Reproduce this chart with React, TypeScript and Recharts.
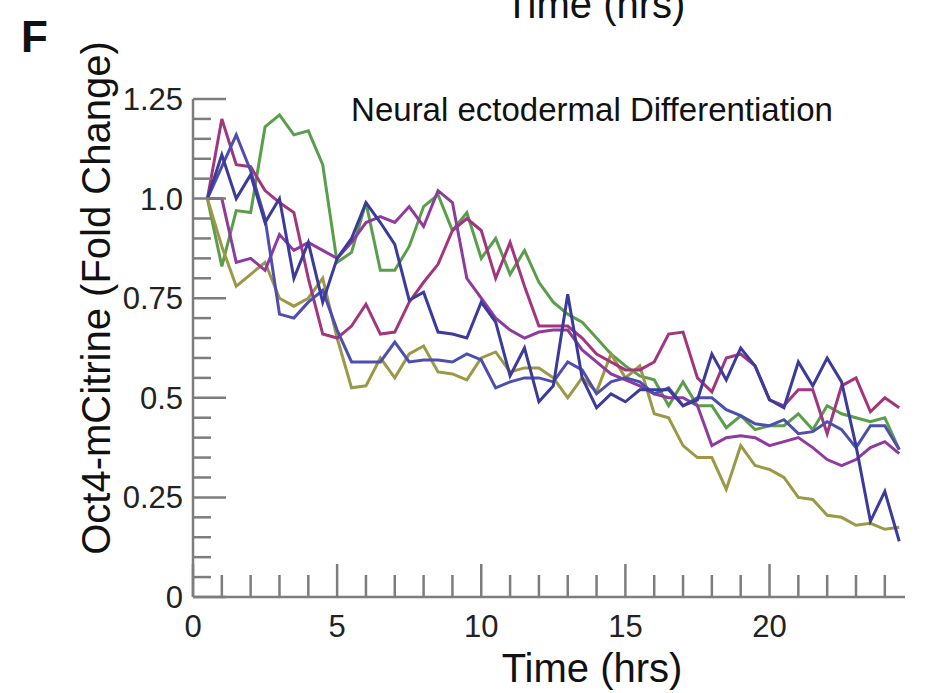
import { LineChart, Line, XAxis, YAxis } from 'recharts';

const hours = [0.5, 1, 1.5, 2, 2.5, 3, 3.5, 4, 4.5, 5, 5.5, 6, 6.5, 7, 7.5, 8, 8.5, 9, 9.5, 10, 10.5, 11, 11.5, 12, 12.5, 13, 13.5, 14, 14.5, 15, 15.5, 16, 16.5, 17, 17.5, 18, 18.5, 19, 19.5, 20, 20.5, 21, 21.5, 22, 22.5, 23, 23.5, 24, 24.5];

const green = [1.0, 0.83, 0.97, 0.965, 1.18, 1.21, 1.16, 1.17, 1.085, 0.84, 0.865, 0.99, 0.82, 0.82, 0.88, 0.98, 1.01, 0.92, 0.965, 0.85, 0.9, 0.81, 0.87, 0.79, 0.74, 0.71, 0.69, 0.65, 0.61, 0.58, 0.555, 0.545, 0.48, 0.54, 0.48, 0.48, 0.425, 0.455, 0.42, 0.43, 0.43, 0.46, 0.42, 0.48, 0.46, 0.45, 0.44, 0.45, 0.37];
const olive = [1.0, 0.88, 0.78, 0.81, 0.84, 0.75, 0.73, 0.75, 0.8, 0.65, 0.525, 0.53, 0.6, 0.55, 0.61, 0.63, 0.565, 0.56, 0.545, 0.6, 0.615, 0.565, 0.575, 0.575, 0.55, 0.5, 0.55, 0.515, 0.61, 0.55, 0.58, 0.46, 0.45, 0.38, 0.35, 0.35, 0.27, 0.38, 0.33, 0.32, 0.3, 0.25, 0.245, 0.205, 0.2, 0.18, 0.185, 0.17, 0.175];
const magenta = [1.0, 1.2, 1.085, 1.08, 1.02, 0.99, 0.965, 0.8, 0.66, 0.65, 0.68, 0.735, 0.66, 0.665, 0.74, 0.79, 0.835, 0.92, 0.95, 0.92, 0.8, 0.89, 0.78, 0.68, 0.68, 0.68, 0.65, 0.61, 0.59, 0.57, 0.57, 0.59, 0.66, 0.665, 0.55, 0.515, 0.6, 0.61, 0.58, 0.495, 0.48, 0.52, 0.52, 0.41, 0.53, 0.55, 0.465, 0.5, 0.475];
const violet = [1.0, 1.0, 0.84, 0.85, 0.82, 0.91, 0.87, 0.89, 0.87, 0.85, 0.89, 0.94, 0.955, 0.94, 0.98, 0.93, 1.02, 0.99, 0.8, 0.75, 0.7, 0.67, 0.65, 0.665, 0.67, 0.67, 0.62, 0.59, 0.56, 0.545, 0.53, 0.51, 0.5, 0.5, 0.48, 0.38, 0.4, 0.405, 0.4, 0.38, 0.39, 0.4, 0.375, 0.345, 0.33, 0.345, 0.375, 0.39, 0.36];
const blueA = [1.0, 1.11, 1.0, 1.06, 0.94, 1.0, 0.8, 0.89, 0.74, 0.85, 0.9, 0.99, 0.94, 0.885, 0.745, 0.765, 0.665, 0.66, 0.65, 0.74, 0.69, 0.555, 0.625, 0.49, 0.53, 0.76, 0.55, 0.475, 0.51, 0.49, 0.52, 0.52, 0.52, 0.48, 0.495, 0.61, 0.545, 0.625, 0.58, 0.495, 0.475, 0.59, 0.53, 0.6, 0.54, 0.38, 0.19, 0.265, 0.14];
const blueB = [1.0, 1.08, 1.16, 1.07, 0.95, 0.71, 0.7, 0.74, 0.77, 0.67, 0.59, 0.59, 0.59, 0.64, 0.59, 0.595, 0.595, 0.59, 0.61, 0.595, 0.525, 0.54, 0.55, 0.55, 0.54, 0.59, 0.57, 0.51, 0.54, 0.55, 0.54, 0.51, 0.525, 0.48, 0.5, 0.5, 0.47, 0.455, 0.435, 0.43, 0.445, 0.41, 0.415, 0.44, 0.42, 0.375, 0.43, 0.43, 0.37];

const xTicks = [0, 1, 2, 3, 4, 5, 6, 7, 8, 9, 10, 11, 12, 13, 14, 15, 16, 17, 18, 19, 20, 21, 22, 23, 24];
const xMajor = [0, 5, 10, 15, 20];
const yTicks = [0, 0.05, 0.1, 0.15, 0.2, 0.25, 0.3, 0.35, 0.4, 0.45, 0.5, 0.55, 0.6, 0.65, 0.7, 0.75, 0.8, 0.85, 0.9, 0.95, 1, 1.05, 1.1, 1.15, 1.2, 1.25];
const yMajor = [0, 0.25, 0.5, 0.75, 1, 1.25];
const yMajorLabels = ['0', '0.25', '0.5', '0.75', '1.0', '1.25'];

const data = hours.map((t, i) => ({
  t,
  green: green[i],
  olive: olive[i],
  magenta: magenta[i],
  violet: violet[i],
  blueA: blueA[i],
  blueB: blueB[i],
}));

const FONT = '"Liberation Sans", Arial, Helvetica, sans-serif';
const AXIS = '#7d7d7d';

const XTick = (props: any) => {
  const { x, y, payload } = props;
  const major = xMajor.includes(payload.value);
  return (
    <g>
      <line x1={x} x2={x} y1={y} y2={y - (major ? 33 : 22)} stroke={AXIS} strokeWidth={2.5} />
      {major && (
        <text x={x} y={y + 40} textAnchor="middle" fontSize={31} fontFamily={FONT} fill="#222">
          {payload.value}
        </text>
      )}
    </g>
  );
};

const YTick = (props: any) => {
  const { x, y, payload } = props;
  const idx = yMajor.findIndex((v) => Math.abs(v - payload.value) < 1e-6);
  const major = idx >= 0;
  return (
    <g>
      <line x1={x} x2={x + (major ? 33 : 18)} y1={y} y2={y} stroke={AXIS} strokeWidth={2.5} />
      {major && (
        <text x={x - 10} y={y + 11} textAnchor="end" fontSize={31} fontFamily={FONT} fill="#222">
          {yMajorLabels[idx]}
        </text>
      )}
    </g>
  );
};

const App = () => {
  return (
    <div style={{ position: 'absolute', left: 0, top: 0, width: 933, height: 693, background: '#fff' }}>
      <LineChart width={933} height={693} data={data} margin={{ top: 99, right: 28, left: 113, bottom: 36 }}>
        <XAxis
          type="number"
          dataKey="t"
          domain={[0, 24.7]}
          ticks={xTicks}
          interval={0}
          tickSize={0}
          tickMargin={0}
          tick={<XTick />}
          height={60}
          stroke={AXIS}
          strokeWidth={2.5}
          allowDataOverflow
        />
        <YAxis
          type="number"
          domain={[0, 1.25]}
          ticks={yTicks}
          interval={0}
          tickSize={0}
          tickMargin={0}
          tick={<YTick />}
          width={80}
          stroke={AXIS}
          strokeWidth={2.5}
          allowDataOverflow
        />
        <Line type="linear" dataKey="green" stroke="#5a9e4b" strokeWidth={3} dot={false} isAnimationActive={false} />
        <Line type="linear" dataKey="olive" stroke="#9c9845" strokeWidth={3} dot={false} isAnimationActive={false} />
        <Line type="linear" dataKey="magenta" stroke="#a3357f" strokeWidth={3} dot={false} isAnimationActive={false} />
        <Line type="linear" dataKey="violet" stroke="#8f3a9e" strokeWidth={3} dot={false} isAnimationActive={false} />
        <Line type="linear" dataKey="blueB" stroke="#4d4fb0" strokeWidth={3} dot={false} isAnimationActive={false} />
        <Line type="linear" dataKey="blueA" stroke="#3b3b9c" strokeWidth={3} dot={false} isAnimationActive={false} />
      </LineChart>
      <svg width={933} height={693} style={{ position: 'absolute', left: 0, top: 0, pointerEvents: 'none' }}>
        <text x={595} y={18} textAnchor="middle" fontSize={40} fontFamily={FONT} fill="#111">Time (hrs)</text>
        <text x={21} y={52} fontSize={44} fontWeight="bold" fontFamily={FONT} fill="#111">F</text>
        <text x={592} y={121} textAnchor="middle" fontSize={33} fontFamily={FONT} fill="#111">Neural ectodermal Differentiation</text>
        <text x={592} y={682} textAnchor="middle" fontSize={40} fontFamily={FONT} fill="#111">Time (hrs)</text>
        <text transform="translate(110, 298) rotate(-90)" textAnchor="middle" fontSize={40} fontFamily={FONT} fill="#111">
          Oct4-mCitrine (Fold Change)
        </text>
      </svg>
    </div>
  );
};

export default App;
